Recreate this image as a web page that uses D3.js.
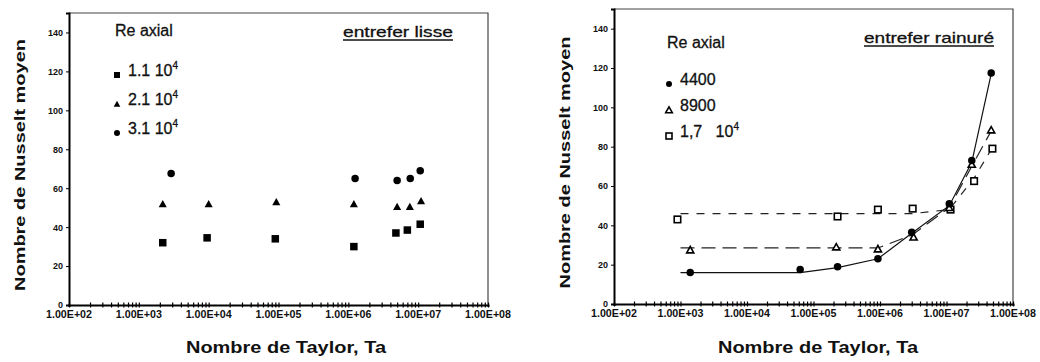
<!DOCTYPE html>
<html>
<head>
<meta charset="utf-8">
<script src="https://cdn.jsdelivr.net/npm/d3@7"></script>
<style>
  body { margin: 0; background: #fff; }
  text { font-family: "Liberation Sans", Arial, sans-serif; fill: #111; }
</style>
</head>
<body>
<div id="chart"></div>
<script>
// x ticks shared by both panels (log scale, decades)
var xTickValues = [1e2, 1e3, 1e4, 1e5, 1e6, 1e7, 1e8];
var xTickLabels = ["1.00E+02", "1.00E+03", "1.00E+04", "1.00E+05", "1.00E+06", "1.00E+07", "1.00E+08"];
var yTickValues = [0, 20, 40, 60, 80, 100, 120, 140];

// left panel : entrefer lisse
var lisseTa11 = [2.2e3, 9.5e3, 9e4, 1.2e6, 4.8e6, 7e6, 1.07e7];
var lisseNu11 = [32, 34.5, 34, 30, 37, 38.5, 41.5];
var lisseTa21 = [2.2e3, 1e4, 9.3e4, 1.2e6, 5e6, 7.6e6, 1.1e7];
var lisseNu21 = [52, 52, 53, 52, 50.5, 50.5, 53.5];
var lisseTa31 = [2.9e3, 1.25e6, 5e6, 7.7e6, 1.07e7];
var lisseNu31 = [67.5, 65, 64, 65, 69];

// right panel : entrefer rainuré
var rainTa4400 = [1.4e3, 6.3e4, 2.3e5, 9.3e5, 3e6, 1.1e7, 2.4e7, 4.7e7];
var rainNu4400 = [16, 17.5, 19, 23, 36.5, 51, 73, 117.5];
var rainTa8900 = [1.4e3, 2.2e5, 9.3e5, 3.2e6, 1.1e7, 2.4e7, 4.7e7];
var rainNu8900 = [27.5, 29, 28, 34, 49, 71, 88.5];
var rainTa17 = [9e2, 2.3e5, 9.3e5, 3.1e6, 1.15e7, 2.6e7, 4.9e7];
var rainNu17 = [43, 44.5, 48, 48.5, 48, 62.5, 79];

// hand drawn trend curves of the right panel
var curveTa4400 = [1e3, 6.3e4, 2.3e5, 9.3e5, 3e6, 1.1e7, 2.4e7, 4.7e7];
var curveNu4400 = [16, 16, 18.5, 23, 36, 50, 72, 117];
var curveTa8900 = [1e3, 9.3e5, 3e6, 1.1e7, 2.4e7, 4.7e7];
var curveNu8900 = [28.5, 28.5, 35, 49, 70, 88];
var curveTa17 = [1e3, 3.2e6, 1.1e7, 2.6e7, 5e7];
var curveNu17 = [46, 46, 48, 64, 80];

var svg = d3.select("#chart").append("svg")
  .attr("width", 1040)
  .attr("height", 362);

function zip(xs, ys) {
  return xs.map(function(x, i) { return { x: x, y: ys[i] }; });
}

function drawPanel(p) {
  var x = d3.scaleLog().domain([1e2, 1e8]).range([p.left, p.right]);
  var y = d3.scaleLinear().domain([0, 150]).range([p.bottom, p.top]);
  var g = svg.append("g");

  // thin frame on top and right
  g.append("path")
    .attr("d", `M${p.left},${p.top}H${p.right}V${p.bottom}`)
    .attr("fill", "none").attr("stroke", "#444").attr("stroke-width", 1.2);

  // left axis
  var leftAxis = d3.axisLeft(y).tickValues(yTickValues).tickSize(3).tickPadding(3);
  var ya = g.append("g").attr("transform", `translate(${p.left},0)`).call(leftAxis);
  ya.select(".domain").attr("stroke", "#000").attr("stroke-width", 2);
  ya.selectAll("text").attr("font-size", 9).attr("font-weight", "bold")
    .attr("font-family", "Liberation Sans, Arial, sans-serif")
    .attr("fill", "#111");

  // bottom axis with log minor ticks crossing the line
  var minor = [];
  for (var e = 2; e < 8; e++) {
    for (var k = 1; k < 10; k++) minor.push(k * Math.pow(10, e));
  }
  minor.push(1e8);
  var bottomAxis = d3.axisBottom(x).tickValues(minor).tickSize(2).tickFormat("");
  var xa = g.append("g").attr("transform", `translate(0,${p.bottom})`).call(bottomAxis);
  xa.select(".domain").attr("stroke", "#000").attr("stroke-width", 2);
  xa.selectAll(".tick line").attr("y1", -2.5).attr("y2", 2.5).attr("stroke-width", 1.2);

  g.selectAll(".xlab").data(xTickValues).enter().append("text")
    .attr("class", "xlab")
    .attr("x", d => x(d))
    .attr("y", p.bottom + 13)
    .attr("text-anchor", "middle")
    .attr("font-size", 10).attr("font-weight", "bold")
    .attr("textLength", 46).attr("lengthAdjust", "spacingAndGlyphs")
    .text((d, i) => xTickLabels[i]);

  // axis titles
  g.append("text")
    .attr("transform", `translate(${p.yTitleX},${(p.top + p.bottom) / 2 + 6}) rotate(-90)`)
    .attr("text-anchor", "middle")
    .attr("font-size", 15).attr("font-weight", "bold")
    .attr("textLength", 252).attr("lengthAdjust", "spacingAndGlyphs")
    .text("Nombre de Nusselt moyen");

  g.append("text")
    .attr("x", p.xTitleX).attr("y", 353)
    .attr("text-anchor", "middle")
    .attr("font-size", 17).attr("font-weight", "bold")
    .attr("textLength", 200).attr("lengthAdjust", "spacingAndGlyphs")
    .text("Nombre de Taylor, Ta");

  // gap label, underlined
  g.append("text")
    .attr("x", p.tagX).attr("y", p.tagY)
    .attr("font-size", 15)
    .attr("stroke", "#111").attr("stroke-width", 0.3)
    .attr("textLength", p.tagW).attr("lengthAdjust", "spacingAndGlyphs")
    .text(p.tag);
  g.append("line")
    .attr("x1", p.tagX).attr("x2", p.tagX + p.tagW)
    .attr("y1", p.tagY + 3).attr("y2", p.tagY + 3)
    .attr("stroke", "#111").attr("stroke-width", 1.5);

  // legend
  g.append("text")
    .attr("x", p.legX).attr("y", p.legTitleY)
    .attr("font-size", 16)
    .attr("stroke", "#111").attr("stroke-width", 0.3)
    .text("Re axial");

  p.legend.forEach(function(item, i) {
    var ly = p.legY + i * p.legStep;
    drawMarker(g, item.shape, p.legX + 2, ly + 5, 6, item.open);
    var t = g.append("text")
      .attr("x", p.legX + 13).attr("y", ly + 6)
      .attr("font-size", 16)
      .attr("stroke", "#111").attr("stroke-width", 0.3)
      .style("white-space", "pre");
    t.append("tspan").text(item.label);
    if (item.exp) {
      t.append("tspan").attr("font-size", 10).attr("dy", -7).text(item.exp);
    }
  });

  return { g: g, x: x, y: y };
}

function drawMarker(g, shape, cx, cy, s, open) {
  var fill = open ? "#fff" : "#000";
  var sw = open ? 1.6 : 0;
  if (shape === "square") {
    g.append("rect")
      .attr("x", cx - s / 2).attr("y", cy - s / 2)
      .attr("width", s).attr("height", s)
      .attr("fill", fill).attr("stroke", "#000").attr("stroke-width", sw);
  } else if (shape === "triangle") {
    var h = s * 0.9;
    g.append("path")
      .attr("d", `M${cx},${cy - h / 2 - 0.5}L${cx + s / 2 + 0.3},${cy + h / 2}L${cx - s / 2 - 0.3},${cy + h / 2}Z`)
      .attr("fill", fill).attr("stroke", "#000").attr("stroke-width", sw);
  } else {
    g.append("circle")
      .attr("cx", cx).attr("cy", cy).attr("r", s / 2)
      .attr("fill", fill).attr("stroke", "#000").attr("stroke-width", sw);
  }
}

function drawPoints(panel, xs, ys, shape, size, open) {
  zip(xs, ys).forEach(function(d) {
    drawMarker(panel.g, shape, panel.x(d.x), panel.y(d.y), size, open);
  });
}

// ---------- left panel ----------
var left = drawPanel({
  left: 69, right: 488, top: 13, bottom: 305,
  yTitleX: 25, xTitleX: 286,
  tag: "entrefer lisse", tagX: 343, tagY: 37, tagW: 110,
  legX: 115, legTitleY: 36, legY: 70, legStep: 29,
  legend: [
    { shape: "square", label: "1.1 10", exp: "4" },
    { shape: "triangle", label: "2.1 10", exp: "4" },
    { shape: "circle", label: "3.1 10", exp: "4" }
  ]
});
drawPoints(left, lisseTa11, lisseNu11, "square", 7.5, false);
drawPoints(left, lisseTa21, lisseNu21, "triangle", 7.5, false);
drawPoints(left, lisseTa31, lisseNu31, "circle", 7.5, false);

// ---------- right panel ----------
var right = drawPanel({
  left: 614, right: 1013, top: 9, bottom: 304,
  yTitleX: 570, xTitleX: 818,
  tag: "entrefer rainuré", tagX: 864, tagY: 43, tagW: 130,
  legX: 667, legTitleY: 48, legY: 79, legStep: 26,
  legend: [
    { shape: "circle", label: "4400" },
    { shape: "triangle", label: "8900", open: true },
    { shape: "square", label: "1,7   10", exp: "4", open: true }
  ]
});

var line = d3.line().x(d => right.x(d.x)).y(d => right.y(d.y));
right.g.append("path")
  .attr("d", line(zip(curveTa4400, curveNu4400)))
  .attr("fill", "none").attr("stroke", "#111").attr("stroke-width", 1.2);
right.g.append("path")
  .attr("d", line(zip(curveTa8900, curveNu8900)))
  .attr("fill", "none").attr("stroke", "#222").attr("stroke-width", 1.2)
  .attr("stroke-dasharray", "14,7");
right.g.append("path")
  .attr("d", line(zip(curveTa17, curveNu17)))
  .attr("fill", "none").attr("stroke", "#222").attr("stroke-width", 1.2)
  .attr("stroke-dasharray", "8,8");

drawPoints(right, rainTa17, rainNu17, "square", 6.5, true);
drawPoints(right, rainTa8900, rainNu8900, "triangle", 6.5, true);
drawPoints(right, rainTa4400, rainNu4400, "circle", 7.5, false);
</script>
</body>
</html>
